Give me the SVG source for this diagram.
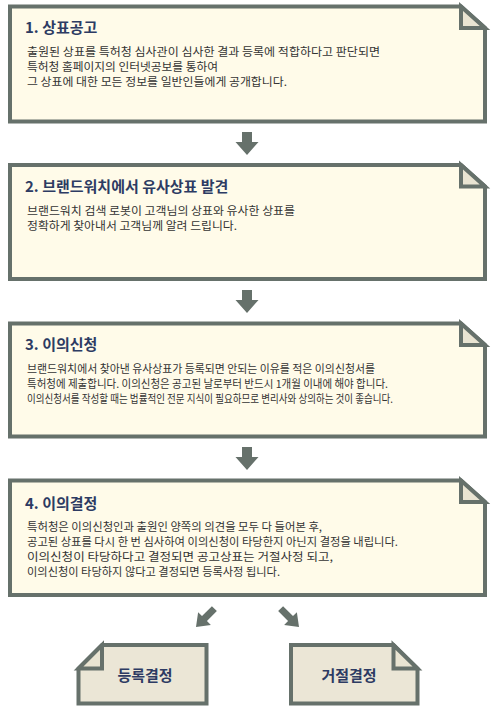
<svg xmlns="http://www.w3.org/2000/svg" width="498" height="716" viewBox="0 0 498 716">
<defs>
<style>
.box{fill:#fffbe9;stroke:#66716b;stroke-width:4;stroke-linejoin:miter}
.fold{fill:#e9e4d2;stroke:#66716b;stroke-width:4;stroke-linejoin:miter}
.sbox{fill:#ebe6d6;stroke:#66716b;stroke-width:4;stroke-linejoin:miter}
.title{font-family:"Noto Sans CJK KR","Noto Sans",sans-serif;font-size:15px;font-weight:bold;fill:#2d3b63}
.body{font-family:"Noto Sans CJK KR","Noto Sans",sans-serif;font-size:11px;fill:#333333}
.label{font-family:"Noto Sans CJK KR","Noto Sans",sans-serif;font-size:15px;font-weight:bold;fill:#2d3b63;text-anchor:middle}
.arrow{fill:#66716b}
</style>
<path id="down" d="M-5,0 H5 V10 H11.5 L0,23 L-11.5,10 H-5 Z"/>
<path id="diag" d="M-3.5,-26 H3.5 V-12 H9 L0,0 L-9,-12 H-3.5 Z"/>
</defs>
<rect width="498" height="716" fill="#ffffff"/>

<g id="connectors">
<use href="#down" class="arrow" transform="translate(247,132)"/>
<use href="#down" class="arrow" transform="translate(247,290)"/>
<use href="#down" class="arrow" transform="translate(247,447)"/>
<use href="#diag" class="arrow" transform="translate(196,627) rotate(45)"/>
<use href="#diag" class="arrow" transform="translate(299,627) rotate(-45)"/>
</g>

<g id="node1">
<path class="box" d="M10,6.5 H461 L485,28 V121.5 H10 Z"/>
<path class="fold" d="M461,6.5 V28 H485 Z"/>
<text class="title" x="25" y="32.5">1. 상표공고</text>
<text class="body" x="27" y="56" textLength="353" lengthAdjust="spacingAndGlyphs">출원된 상표를 특허청 심사관이 심사한 결과 등록에 적합하다고 판단되면</text>
<text class="body" x="27" y="71" textLength="191" lengthAdjust="spacingAndGlyphs">특허청 홈페이지의 인터넷공보를 통하여</text>
<text class="body" x="27" y="85.5" textLength="260" lengthAdjust="spacingAndGlyphs">그 상표에 대한 모든 정보를 일반인들에게 공개합니다.</text>
</g>

<g id="node2">
<path class="box" d="M10,165 H461 L485,186.5 V279 H10 Z"/>
<path class="fold" d="M461,165 V186.5 H485 Z"/>
<text class="title" x="25" y="191.5">2. 브랜드워치에서 유사상표 발견</text>
<text class="body" x="27" y="214.5" textLength="268" lengthAdjust="spacingAndGlyphs">브랜드워치 검색 로봇이 고객님의 상표와 유사한 상표를</text>
<text class="body" x="27" y="229.5" textLength="210" lengthAdjust="spacingAndGlyphs">정확하게 찾아내서 고객님께 알려 드립니다.</text>
</g>

<g id="node3">
<path class="box" d="M10,323.5 H461 L485,345 V436.5 H10 Z"/>
<path class="fold" d="M461,323.5 V345 H485 Z"/>
<text class="title" x="25" y="349.5">3. 이의신청</text>
<text class="body" x="27" y="372.5" textLength="348" lengthAdjust="spacingAndGlyphs">브랜드워치에서 찾아낸 유사상표가 등록되면 안되는 이유를 적은 이의신청서를</text>
<text class="body" x="27" y="387.5" textLength="361" lengthAdjust="spacingAndGlyphs">특허청에 제출합니다. 이의신청은 공고된 날로부터 반드시 1개월 이내에 해야 합니다.</text>
<text class="body" x="27" y="402.5" textLength="366" lengthAdjust="spacingAndGlyphs">이의신청서를 작성할 때는 법률적인 전문 지식이 필요하므로 변리사와 상의하는 것이 좋습니다.</text>
</g>

<g id="node4">
<path class="box" d="M10,480.5 H461 L485,502 V595 H10 Z"/>
<path class="fold" d="M461,480.5 V502 H485 Z"/>
<text class="title" x="25" y="509">4. 이의결정</text>
<text class="body" x="27" y="531" textLength="295" lengthAdjust="spacingAndGlyphs">특허청은 이의신청인과 출원인 양쪽의 의견을 모두 다 들어본 후,</text>
<text class="body" x="27" y="546" textLength="371" lengthAdjust="spacingAndGlyphs">공고된 상표를 다시 한 번 심사하여 이의신청이 타당한지 아닌지 결정을 내립니다.</text>
<text class="body" x="27" y="561" textLength="306" lengthAdjust="spacingAndGlyphs">이의신청이 타당하다고 결정되면 공고상표는 거절사정 되고,</text>
<text class="body" x="27" y="576" textLength="253" lengthAdjust="spacingAndGlyphs">이의신청이 타당하지 않다고 결정되면 등록사정 됩니다.</text>
</g>

<g id="node5">
<path class="sbox" d="M102,645 H206.5 V703.5 H78.5 V668.5 Z"/>
<path class="fold" d="M102,645 V668.5 H78.5 Z"/>
<text class="label" x="145" y="681">등록결정</text>
</g>

<g id="node6">
<path class="sbox" d="M291,645 H393.5 L417.5,668.5 V703.5 H291 Z"/>
<path class="fold" d="M393.5,645 V668.5 H417.5 Z"/>
<text class="label" x="349" y="681">거절결정</text>
</g>
</svg>
